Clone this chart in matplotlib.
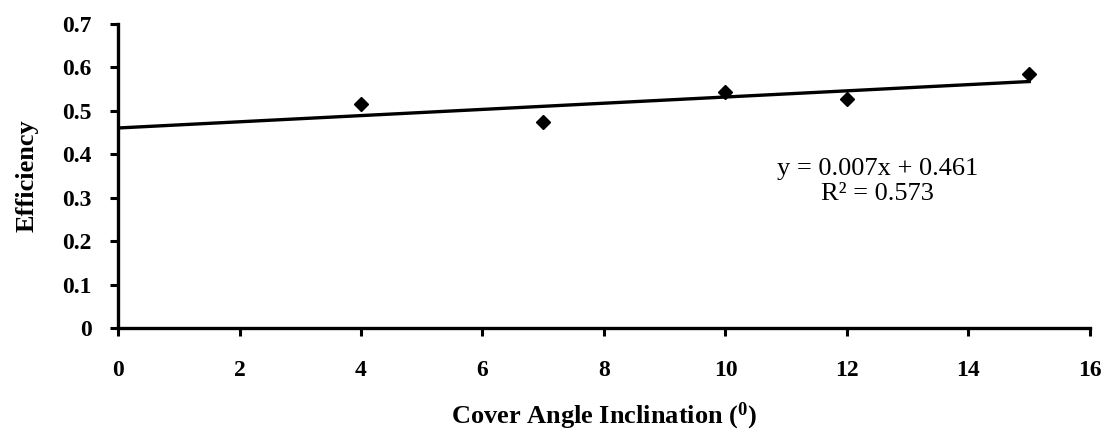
import numpy as np
import matplotlib.pyplot as plt

plt.rcParams['font.family'] = 'Liberation Serif'
plt.rcParams['mathtext.fontset'] = 'custom'
plt.rcParams['mathtext.rm'] = 'Liberation Serif'
plt.rcParams['mathtext.bf'] = 'Liberation Serif:bold'

# data
angle = [4, 7, 10, 12, 15]
efficiency = [0.515, 0.475, 0.543, 0.527, 0.585]

# linear trendline
slope, intercept = np.polyfit(angle, efficiency, 1)
x_fit = np.array([0, 15])
y_fit = slope * x_fit + intercept

fig = plt.figure(figsize=(11.06, 4.33), dpi=100)
ax = fig.add_axes([0.1067, 0.2425, 0.8788, 0.7021])

ax.plot(x_fit, y_fit, color='black', lw=2.4, zorder=2)
ax.plot(angle, efficiency, 'D', color='black', markersize=7, zorder=3)

ax.set_xlim(0, 16)
ax.set_ylim(0, 0.7)
ax.set_xticks(range(0, 17, 2))
ax.set_yticks(np.arange(0, 0.71, 0.1))
ax.set_yticklabels(['0', '0.1', '0.2', '0.3', '0.4', '0.5', '0.6', '0.7'])

for s in ['top', 'right']:
    ax.spines[s].set_visible(False)
for s in ['left', 'bottom']:
    ax.spines[s].set_linewidth(2.4)

ax.tick_params(axis='both', direction='out', length=6, width=2.2,
               labelsize=17)
ax.tick_params(axis='x', pad=17)
ax.tick_params(axis='y', pad=13)
for lab in ax.get_xticklabels() + ax.get_yticklabels():
    lab.set_fontweight('bold')

ax.set_xlabel(r'Cover Angle Inclination ($\mathbf{^0}$)', fontsize=19,
              fontweight='bold', labelpad=14)
ax.set_ylabel('Efficiency', fontsize=19, fontweight='bold', labelpad=17)

ax.text(12.5, 0.337, 'y = 0.007x + 0.461\nR\u00b2 = 0.573', fontsize=19,
        ha='center', va='center', linespacing=1.2)

fig.savefig('out.png', dpi=100)
